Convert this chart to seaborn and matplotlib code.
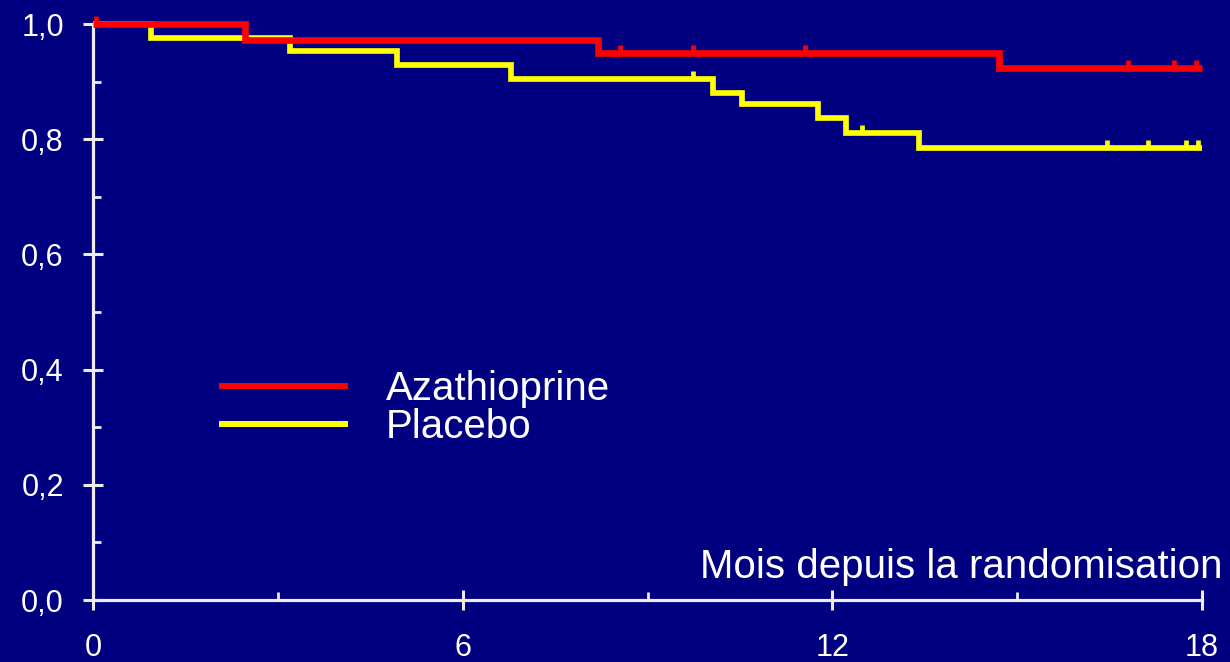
import numpy as np
import pandas as pd
import matplotlib
matplotlib.use("Agg")
import matplotlib.pyplot as plt
from matplotlib.ticker import AutoMinorLocator
import seaborn as sns

# Kaplan-Meier steps: event times (months) and survival level after each step
aza_times = [0.0, 2.47, 8.2, 14.7]
aza_surv = [1.0, 0.972, 0.950, 0.923]
aza_censored = [0.05, 8.55, 9.74, 11.56, 16.8, 17.55, 17.9]

pla_times = [0.0, 0.94, 3.2, 4.93, 6.79, 10.07, 10.53, 11.77, 12.22, 13.4]
pla_surv = [1.0, 0.975, 0.953, 0.929, 0.904, 0.881, 0.861, 0.836, 0.811, 0.785]
pla_censored = [9.74, 12.48, 16.46, 17.13, 17.74, 17.93]

follow_up_end = 18.0
groups = ["Azathioprine", "Placebo"]
group_colors = {"Azathioprine": "#ff0000", "Placebo": "#ffff00"}
x_ticks = [0, 6, 12, 18]
x_tick_labels = ["0", "6", "12", "18"]
y_ticks = [0.0, 0.2, 0.4, 0.6, 0.8, 1.0]
y_tick_labels = ["0,0", "0,2", "0,4", "0,6", "0,8", "1,0"]
x_label = "Mois depuis la randomisation"

BG = "#000080"
FG = "#ececec"

sns.set_style("white", {"axes.facecolor": BG, "figure.facecolor": BG,
                        "xtick.bottom": True, "ytick.left": True})
plt.rcParams["font.family"] = ["Liberation Sans", "DejaVu Sans"]


def step_frame(name, times, surv, end):
    t = list(times) + [end]
    s = list(surv) + [surv[-1]]
    return pd.DataFrame({"mois": t, "survie": s, "groupe": name})


def level_at(times, surv, when):
    idx = np.searchsorted(np.asarray(times), np.asarray(when), side="right") - 1
    return np.asarray(surv)[idx]


curves = pd.concat([
    step_frame("Azathioprine", aza_times, aza_surv, follow_up_end),
    step_frame("Placebo", pla_times, pla_surv, follow_up_end),
], ignore_index=True)

W, H = 1230, 662
fig = plt.figure(figsize=(W / 100, H / 100), dpi=100)
px_per_month = (1202 - 93) / 18.0
px_per_unit = 576.0
x_max, y_max = 18.2, 1.035
ax = fig.add_axes([93 / W, 62 / H, x_max * px_per_month / W, y_max * px_per_unit / H])

sns.lineplot(data=curves, x="mois", y="survie", hue="groupe", hue_order=groups,
             palette=group_colors, estimator=None, sort=False,
             drawstyle="steps-post", ax=ax, legend=True)

widths = {"Azathioprine": 4.8, "Placebo": 4.1}
for line, name in zip(ax.lines[:2], groups):
    line.set_linewidth(widths[name])
    line.set_solid_joinstyle("miter")
    line.set_solid_capstyle("butt")
    line.set_clip_on(False)
# red curve sits above the yellow one where they overlap
ax.lines[0].set_zorder(4)
ax.lines[1].set_zorder(3)

# censoring marks: short upward ticks on each curve
tick_marker = [(0, 0), (0, 1)]
for name, times, surv, cens, z in [
    ("Azathioprine", aza_times, aza_surv, aza_censored, 5),
    ("Placebo", pla_times, pla_surv, pla_censored, 3.5),
]:
    ax.plot(cens, level_at(times, surv, cens), ls="none", marker=tick_marker,
            ms=12, mew=3.4, color=group_colors[name], zorder=z, clip_on=False)

ax.set_xlim(0, x_max)
ax.set_ylim(0, y_max)
ax.set_xticks(x_ticks)
ax.set_xticklabels(x_tick_labels)
ax.set_yticks(y_ticks)
ax.set_yticklabels(y_tick_labels)
ax.xaxis.set_minor_locator(AutoMinorLocator(2))
ax.yaxis.set_minor_locator(AutoMinorLocator(2))
ax.set_xlabel("")
ax.set_ylabel("")

for side in ["top", "right"]:
    ax.spines[side].set_visible(False)
ax.spines["left"].set_bounds(0, 1.0)
ax.spines["bottom"].set_bounds(0, 18)
for side in ["left", "bottom"]:
    ax.spines[side].set_color(FG)
    ax.spines[side].set_linewidth(2.3)
    ax.spines[side].set_zorder(2)

ax.tick_params(which="both", bottom=True, left=True, top=False, right=False)
ax.tick_params(which="major", direction="inout", length=14, width=2.2,
               color=FG, labelcolor="white", labelsize=22)
ax.tick_params(which="minor", direction="in", length=5.5, width=2.0, color=FG)
ax.tick_params(axis="y", which="major", pad=14)
ax.tick_params(axis="x", which="major", pad=17)

fig.text(1222 / W, (H - 578) / H, x_label, ha="right", va="baseline",
         fontsize=29, color="white")

old = ax.get_legend()
handles = old.legend_handles
labels = [t.get_text() for t in old.texts]
old.remove()
leg = ax.legend(handles=handles, labels=labels, loc="center left",
                bbox_to_anchor=(219 / W, (H - 408) / H), bbox_transform=fig.transFigure,
                frameon=False, fontsize=29, handlelength=3.2, handletextpad=0.95,
                labelspacing=0.0, borderpad=0, borderaxespad=0, labelcolor="white")
for hl in leg.get_lines():
    hl.set_linewidth(4.3)
    hl.set_solid_capstyle("butt")

fig.savefig("out.png", dpi=100, facecolor=BG)
